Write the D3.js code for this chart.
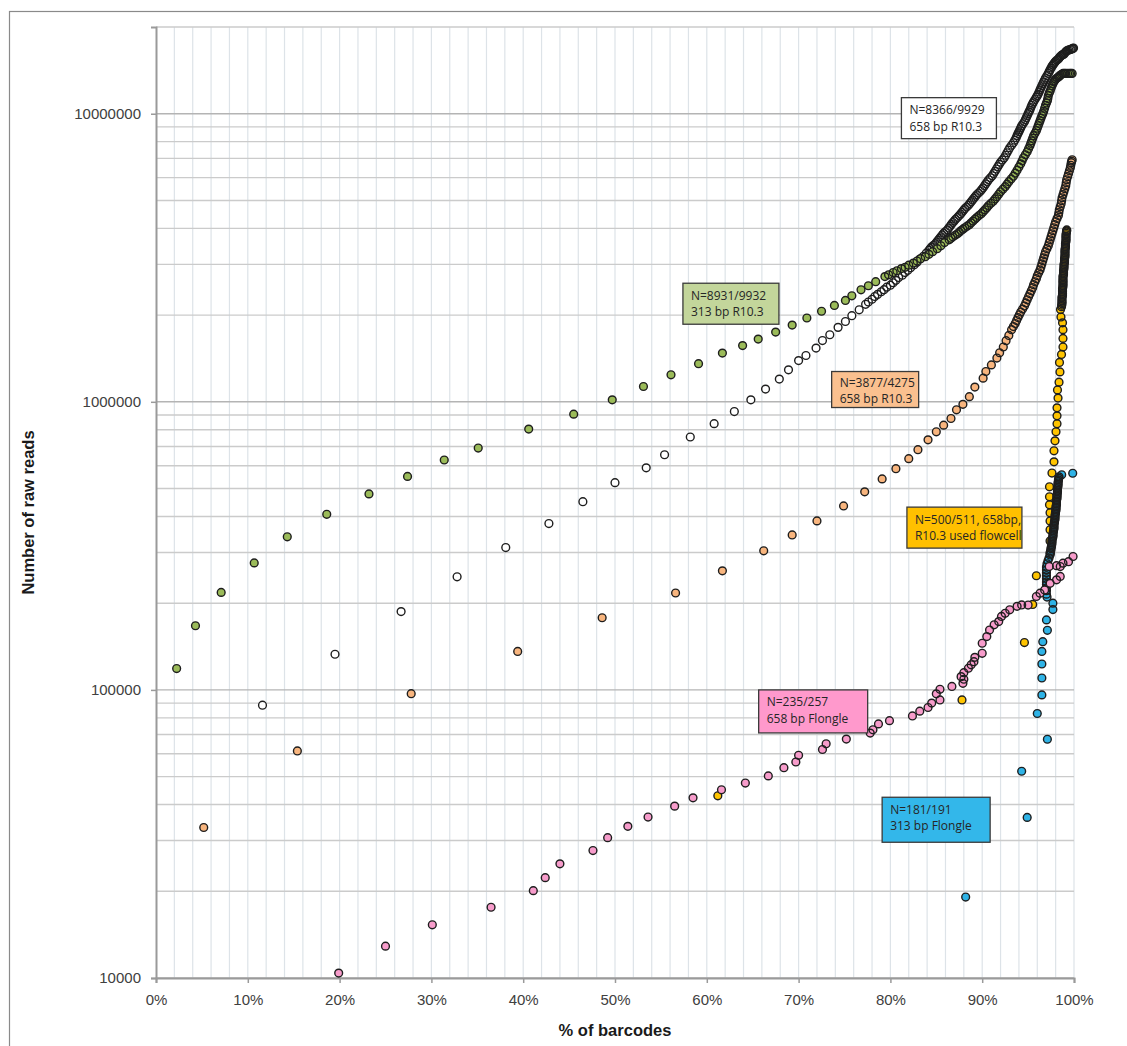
<!DOCTYPE html>
<html>
<head>
<meta charset="utf-8">
<script src="https://cdn.jsdelivr.net/npm/d3@7/dist/d3.min.js"></script>
<style>
  body { margin: 0; background: #fff; }
  svg { display: block; }
</style>
</head>
<body>
<div id="chart"></div>
<script>
// [% of barcodes, number of raw reads]
const white658R103 = [
  [11.6,88500],[19.5,133000],[26.7,187000],[32.8,247000],[38.1,312000],[42.8,378000],[46.5,450000],
  [50.0,524000],[53.4,590000],[55.4,655000],[58.2,755000],[60.8,840000],[63.0,925000],[64.8,1016000],
  [66.4,1107000],[67.9,1199000],[68.9,1291000],[70.0,1390000],[70.8,1448000],[71.9,1536000],[72.6,1632000],
  [73.4,1709000],[74.3,1813000],[75.1,1900000],[75.8,1990000],[76.6,2086000],
  [77.3,2180000],[77.6,2220000],[78.0,2270000],[78.3,2320000],[78.6,2360000],[79.0,2410000],[79.3,2450000],
  [79.6,2500000],[80.0,2540000],[80.3,2590000],[80.6,2640000],[80.9,2700000],[81.3,2750000],[81.6,2810000],
  [81.9,2860000],[82.2,2920000],[82.6,2990000],[82.9,3050000],[83.2,3130000],[83.6,3200000],[83.9,3280000],
  [84.2,3360000],[84.35,3405000],[84.5,3450000],[84.7,3495000],[84.9,3540000],[85.05,3590000],[85.2,3640000],
  [85.35,3690000],[85.5,3740000],[85.65,3795000],[85.8,3850000],[86.0,3900000],[86.2,3950000],[86.35,4010000],
  [86.5,4070000],[86.65,4130000],[86.8,4190000],[86.95,4245000],[87.1,4300000],[87.3,4365000],[87.5,4430000],
  [87.65,4490000],[87.8,4550000],[87.95,4615000],[88.1,4680000],[88.3,4745000],[88.5,4810000],[88.65,4880000],
  [88.8,4950000],[88.95,5020000],[89.1,5090000],[89.25,5160000],[89.4,5230000],[89.6,5305000],[89.8,5380000],
  [89.95,5455000],[90.1,5530000],[90.25,5620000],[90.4,5710000],[90.55,5805000],[90.7,5900000],[90.9,5995000],
  [91.1,6090000],[91.25,6200000],[91.4,6310000],[91.55,6430000],[91.7,6550000],[91.85,6670000],[92.0,6790000],
  [92.2,6910000],[92.4,7030000],[92.55,7175000],[92.7,7320000],[92.85,7470000],[93.0,7620000],[93.2,7775000],
  [93.4,7930000],[93.55,8095000],[93.7,8260000],[93.8,8395000],[93.9,8530000],[94.0,8665000],[94.1,8800000],
  [94.2,8940000],[94.3,9080000],[94.45,9230000],[94.6,9380000],[94.7,9530000],[94.8,9680000],[94.9,9840000],
  [95.0,10000000],[95.1,10150000],[95.2,10300000],[95.3,10500000],[95.4,10700000],[95.5,10850000],
  [95.6,11000000],[95.75,11200000],[95.9,11400000],[96.0,11550000],[96.1,11700000],[96.2,11900000],
  [96.3,12100000],[96.4,12300000],[96.5,12500000],[96.6,12700000],[96.7,12900000],[96.8,13100000],
  [96.9,13300000],[97.05,13550000],[97.2,13800000],[97.3,14000000],[97.4,14200000],[97.5,14400000],
  [97.6,14600000],[97.7,14750000],[97.8,14900000],[97.9,15050000],[98.0,15200000],[98.15,15350000],
  [98.3,15500000],[98.4,15650000],[98.5,15800000],[98.6,15900000],[98.7,16000000],[98.8,16050000],
  [98.9,16100000],[99.0,16250000],[99.1,16400000],[99.2,16500000],[99.3,16600000],[99.45,16650000],
  [99.6,16700000],[99.7,16750000],[99.8,16800000],[99.88,16850000],[99.95,16900000]
];

const green313R103 = [
  [2.25,118600],[4.3,167000],[7.1,218000],[10.7,276000],[14.3,340000],[18.6,407000],[23.2,479000],
  [27.4,551000],[31.4,628000],[35.1,691000],[40.6,804000],[45.5,906000],[49.7,1016000],[53.1,1130000],
  [56.1,1241000],[59.1,1356000],[61.7,1476000],[63.9,1567000],[65.6,1651000],[67.5,1746000],[69.3,1846000],
  [70.9,1954000],[72.5,2062000],[73.9,2160000],[75.1,2248000],[75.8,2333000],[76.8,2448000],[77.6,2529000],
  [78.4,2612000],
  [79.4,2720000],[79.8,2760000],[80.3,2810000],[80.7,2850000],[81.2,2900000],[81.6,2930000],[82.0,2980000],
  [82.5,3030000],[82.9,3080000],[83.3,3140000],[83.8,3190000],[84.2,3250000],[84.6,3320000],[85.1,3400000],
  [85.5,3480000],[85.9,3570000],[86.4,3650000],[86.6,3695000],[86.8,3740000],[87.05,3785000],[87.3,3830000],
  [87.5,3880000],[87.7,3930000],[87.9,3975000],[88.1,4020000],[88.35,4070000],[88.6,4120000],[88.8,4180000],
  [89.0,4240000],[89.2,4300000],[89.4,4360000],[89.65,4430000],[89.9,4500000],[90.1,4570000],[90.3,4640000],
  [90.5,4720000],[90.7,4800000],[90.95,4885000],[91.2,4970000],[91.4,5060000],[91.6,5150000],[91.8,5255000],
  [92.0,5360000],[92.25,5470000],[92.5,5580000],[92.7,5695000],[92.9,5810000],[93.15,5940000],[93.4,6070000],
  [93.6,6220000],[93.8,6370000],[94.0,6535000],[94.2,6700000],[94.35,6865000],[94.5,7030000],[94.7,7205000],
  [94.9,7380000],[95.05,7560000],[95.2,7740000],[95.3,7895000],[95.4,8050000],[95.5,8220000],[95.6,8390000],
  [95.75,8560000],[95.9,8730000],[96.0,8905000],[96.1,9080000],[96.2,9270000],[96.3,9460000],[96.4,9650000],
  [96.5,9840000],[96.6,10000000],[96.7,10200000],[96.8,10450000],[96.9,10700000],[97.0,10900000],
  [97.1,11100000],[97.15,11300000],[97.2,11550000],[97.3,11800000],[97.4,12000000],[97.5,12250000],
  [97.6,12500000],[97.7,12700000],[97.8,12900000],[97.9,13050000],[98.0,13200000],[98.15,13300000],
  [98.3,13400000],[98.4,13500000],[98.5,13600000],[98.65,13700000],[98.8,13800000],[98.95,13800000],
  [99.1,13800000],[99.3,13800000],[99.5,13800000],[99.65,13800000],[99.8,13800000]
];

const orange658R103 = [
  [5.2,33300],[15.4,61400],[27.8,97000],[39.4,136000],[48.6,178000],[56.6,217000],[61.7,259000],
  [66.2,304000],[69.3,345000],[72.0,386000],[74.9,435000],[77.2,487000],[79.1,540000],[80.6,586000],
  [82.0,635000],[83.0,682000],[84.1,738000],[85.0,787000],[85.8,830000],[86.6,875000],[87.2,938000],
  [87.9,980000],[88.6,1042000],[89.2,1125000],[90.1,1208000],[90.4,1274000],[91.0,1343000],[91.6,1419000],
  [91.9,1480000],[92.3,1550000],[92.6,1630000],[92.9,1700000],[93.2,1780000],[93.4,1825000],[93.6,1870000],
  [93.75,1915000],[93.9,1960000],[94.05,2005000],[94.2,2050000],[94.4,2100000],[94.6,2150000],[94.75,2205000],
  [94.9,2260000],[95.05,2315000],[95.2,2370000],[95.35,2430000],[95.5,2490000],[95.6,2550000],[95.75,2610000],
  [95.9,2675000],[96.0,2740000],[96.15,2805000],[96.3,2870000],[96.4,2940000],[96.5,3010000],[96.6,3085000],
  [96.7,3160000],[96.8,3240000],[96.9,3320000],[97.05,3400000],[97.2,3480000],[97.3,3565000],[97.4,3650000],
  [97.5,3740000],[97.6,3830000],[97.7,3925000],[97.8,4020000],[97.9,4120000],[98.0,4220000],[98.15,4325000],
  [98.3,4430000],[98.35,4535000],[98.4,4640000],[98.5,4755000],[98.6,4870000],[98.65,4990000],[98.7,5110000],
  [98.8,5235000],[98.9,5360000],[99.0,5490000],[99.1,5620000],[99.15,5760000],[99.2,5900000],[99.3,6045000],
  [99.4,6190000],[99.5,6340000],[99.6,6490000],[99.65,6625000],[99.7,6760000],[99.75,6840000],[99.8,6920000]
];

const yellowUsedFlowcell = [
  [61.2,42900],[87.8,92300],[94.6,146000],[95.5,198000],[95.9,249000],
  [97.39,299000],[97.39,329000],[97.39,360000],[97.39,386000],[97.39,412000],[97.33,439000],[97.33,468000],
  [97.33,507000],[97.60,566000],[97.82,619000],[97.82,676000],[97.93,732000],[98.04,787000],[98.15,839000],
  [98.15,894000],[98.15,953000],[98.26,1030000],[98.20,1100000],[98.37,1170000],[98.47,1270000],
  [98.42,1370000],[98.64,1460000],[98.80,1550000],[98.80,1660000],[98.80,1780000],[98.75,1880000],
  [98.58,1970000],[98.53,2090000],
  [98.64,2140000],[98.66,2165000],[98.69,2190000],[98.69,2215000],[98.69,2240000],[98.69,2270000],
  [98.69,2300000],[98.72,2325000],[98.75,2350000],[98.75,2380000],[98.75,2410000],[98.75,2440000],
  [98.75,2470000],[98.78,2500000],[98.80,2530000],[98.80,2560000],[98.80,2590000],[98.80,2620000],
  [98.80,2650000],[98.80,2685000],[98.80,2720000],[98.83,2750000],[98.86,2780000],[98.86,2815000],
  [98.86,2850000],[98.89,2885000],[98.91,2920000],[98.91,2955000],[98.91,2990000],[98.94,3025000],
  [98.97,3060000],[98.97,3100000],[98.97,3140000],[99.0,3175000],[99.02,3210000],[99.02,3250000],
  [99.02,3290000],[99.02,3330000],[99.02,3370000],[99.05,3410000],[99.07,3450000],[99.07,3495000],
  [99.07,3540000],[99.10,3580000],[99.13,3620000],[99.13,3665000],[99.13,3710000],[99.13,3755000],
  [99.13,3800000],[99.16,3845000],[99.18,3890000],[99.2,3920000],[99.21,3950000]
];

const blue313Flongle = [
  [88.2,19100],[94.9,36100],[94.3,52200],[97.1,67400],[96.0,82800],[96.5,96100],[96.5,110000],
  [96.5,123000],[96.5,136000],[96.6,147000],[97.1,161000],[97.0,175000],[97.7,190000],[97.7,200000],
  [97.06,210000],[97.0,215000],[97.0,221000],[97.0,226000],[97.0,232000],[97.0,237000],[97.0,243000],
  [97.0,249000],[97.0,255000],[97.0,261000],[97.0,267000],[97.06,274000],[97.17,281000],[97.28,287000],
  [97.39,294000],[97.42,297500],[97.44,301000],[97.47,305000],[97.49,309000],[97.52,312500],[97.55,316000],
  [97.58,320000],[97.60,324000],[97.60,328000],[97.60,332000],[97.66,336000],[97.71,340000],[97.71,344000],
  [97.71,348000],[97.74,352500],[97.77,357000],[97.80,361000],[97.82,365000],[97.82,369500],[97.82,374000],
  [97.85,378500],[97.87,383000],[97.90,387500],[97.93,392000],[97.93,397000],[97.93,402000],[97.96,407000],
  [97.98,412000],[98.01,417000],[98.04,422000],[98.04,427000],[98.04,432000],[98.07,437000],[98.09,442000],
  [98.09,447500],[98.09,453000],[98.12,458500],[98.15,464000],[98.15,469500],[98.15,475000],[98.18,481000],
  [98.20,487000],[98.20,493000],[98.20,499000],[98.23,505000],[98.26,511000],[98.26,517000],[98.26,523000],
  [98.29,529500],[98.31,536000],[98.34,542500],[98.37,549000],[98.66,558000],[99.86,565000]
];

const pink658Flongle = [
  [19.9,10400],[25.0,12900],[30.1,15300],[36.5,17600],[41.1,20100],[42.4,22300],[44.0,24900],[47.6,27700],
  [49.2,30700],[51.4,33600],[53.6,36200],[56.5,39500],[58.5,42200],[61.6,45000],[64.2,47500],[66.7,50300],
  [68.4,53700],[69.7,56200],[70.0,59300],[72.6,62100],[73.0,65000],[75.2,67500],[77.8,70800],[78.1,72700],
  [78.7,76200],[79.9,78200],[82.4,81200],[83.2,84400],[84.1,86900],[84.5,90000],[85.0,96900],[85.4,92300],
  [85.4,100500],[86.7,102800],[87.9,105400],[88.0,108900],[87.7,111200],[88.0,114800],[88.5,118900],
  [88.8,122200],[89.1,125300],[89.2,129700],[90.0,134000],[90.0,145200],[90.5,153100],[90.8,161400],
  [91.3,168300],[91.8,172600],[92.1,179900],[92.5,184500],[93.0,189700],[93.8,195000],[94.3,197200],
  [95.0,197000],[95.9,211000],[96.3,216700],[96.8,222300],[97.4,234400],[98.1,241000],[98.5,247700],
  [97.3,268000],[98.1,270000],[98.5,268000],[98.8,275400],[99.4,278600],[99.9,290400]
];

const seriesFills = ["#ffffff", "#9bbb59", "#f8b57e", "#ffc400", "#2fb3e6", "#f79ccb"];

// label boxes: text lines, fill, top-left corner in chart units (%, reads), size in px
const labelLines = [
  ["N=8366/9929", "658 bp R10.3"],
  ["N=8931/9932", "313 bp R10.3"],
  ["N=3877/4275", "658 bp R10.3"],
  ["N=500/511, 658bp,", "R10.3 used flowcell"],
  ["N=235/257", "658 bp Flongle"],
  ["N=181/191", "313 bp Flongle"]
];
const labelFills = ["#ffffff", "#c3d69b", "#fac08f", "#ffc000", "#ff99cc", "#33b7ea"];
const labelAnchors = [[81.2, 11370000], [57.4, 2580000], [73.6, 1274000], [81.8, 431000], [65.65, 100000], [79.1, 42400]];
const labelWidths = [95, 96, 87, 115, 109, 108];
const labelHeights = [41, 41, 36, 41, 43, 45];

const xTicks = [0, 10, 20, 30, 40, 50, 60, 70, 80, 90, 100];
const yTicks = [10000, 100000, 1000000, 10000000];

const W = 1127, H = 1046;
const plotLeft = 156, plotRight = 1074, plotTop = 27, plotBottom = 978;

const svg = d3.select("#chart").append("svg")
  .attr("width", W)
  .attr("height", H);

// outer figure frame
svg.append("rect")
  .attr("x", 9.5).attr("y", 11.5)
  .attr("width", W + 20).attr("height", H + 20)
  .attr("fill", "none")
  .attr("stroke", "#8a8a8a")
  .attr("stroke-width", 1.2);

const x = d3.scaleLinear().domain([0, 100]).range([plotLeft, plotRight]);
const y = d3.scaleLog().domain([10000, 20000000]).range([plotBottom, plotTop]);

// vertical grid every 2%
svg.append("g")
  .selectAll("line")
  .data(d3.range(2, 101, 2))
  .join("line")
  .attr("x1", d => x(d)).attr("x2", d => x(d))
  .attr("y1", plotTop).attr("y2", plotBottom)
  .attr("stroke", "#dde3e8")
  .attr("stroke-width", 1.2);

// horizontal grid at log minor ticks
svg.append("g")
  .selectAll("line")
  .data(y.ticks())
  .join("line")
  .attr("x1", plotLeft).attr("x2", plotRight)
  .attr("y1", d => y(d)).attr("y2", d => y(d))
  .attr("stroke", d => yTicks.includes(d) ? "#b4b4b4" : "#cbcbcb")
  .attr("stroke-width", 1.4);

// axes
const yAxis = d3.axisLeft(y).tickValues(yTicks).tickFormat(d3.format("d")).tickSize(5).tickPadding(10);
const xAxis = d3.axisBottom(x).tickValues(xTicks).tickFormat(d => d + "%").tickSize(5).tickPadding(11);

const gy = svg.append("g").attr("transform", `translate(${plotLeft},0)`).call(yAxis);
const gx = svg.append("g").attr("transform", `translate(0,${plotBottom})`).call(xAxis);

[gx, gy].forEach(g => {
  g.select(".domain").attr("stroke", "#9a9a9a").attr("stroke-width", 2);
  g.selectAll(".tick line").attr("stroke", "#9a9a9a").attr("stroke-width", 1.5);
  g.selectAll(".tick text")
    .attr("fill", "#404040")
    .style("font-family", "'Liberation Sans', Arial, sans-serif")
    .style("font-size", "15px");
});

svg.append("text")
  .attr("transform", `translate(34,${(plotTop + plotBottom) / 2 + 10}) rotate(-90)`)
  .attr("text-anchor", "middle")
  .style("font-family", "'Liberation Sans', Arial, sans-serif")
  .style("font-size", "16.5px")
  .style("font-weight", "bold")
  .attr("fill", "#1a1a1a")
  .text("Number of raw reads");

svg.append("text")
  .attr("x", (plotLeft + plotRight) / 2)
  .attr("y", 1036)
  .attr("text-anchor", "middle")
  .style("font-family", "'Liberation Sans', Arial, sans-serif")
  .style("font-size", "16.5px")
  .style("font-weight", "bold")
  .attr("fill", "#1a1a1a")
  .text("% of barcodes");

// scatter series: fills first, then outlines, so dense runs read as dark bands
const allSeries = [white658R103, green313R103, orange658R103, yellowUsedFlowcell, blue313Flongle, pink658Flongle];

allSeries.forEach((data, i) => {
  const g = svg.append("g");
  g.append("g")
    .selectAll("circle")
    .data(data)
    .join("circle")
    .attr("cx", d => x(d[0]))
    .attr("cy", d => y(d[1]))
    .attr("r", 3.9)
    .attr("fill", seriesFills[i]);
  g.append("g")
    .selectAll("circle")
    .data(data)
    .join("circle")
    .attr("cx", d => x(d[0]))
    .attr("cy", d => y(d[1]))
    .attr("r", 3.9)
    .attr("fill", "none")
    .attr("stroke", "#1e1e1e")
    .attr("stroke-width", 1.4);
});

// label boxes
labelLines.forEach((lines, i) => {
  const bx = x(labelAnchors[i][0]);
  const by = y(labelAnchors[i][1]);
  const g = svg.append("g").attr("transform", `translate(${bx},${by})`);
  g.append("rect")
    .attr("width", labelWidths[i])
    .attr("height", labelHeights[i])
    .attr("fill", labelFills[i])
    .attr("stroke", "#3a3a3a")
    .attr("stroke-width", 1.3);
  g.selectAll("text")
    .data(lines)
    .join("text")
    .attr("x", 8)
    .attr("y", (d, j) => (labelHeights[i] < 40 ? 15 : 16.5) + j * 16.7)
    .style("font-family", "'Open Sans', sans-serif")
    .style("font-size", "12px")
    .attr("fill", "#262626")
    .text(d => d);
});
</script>
</body>
</html>
